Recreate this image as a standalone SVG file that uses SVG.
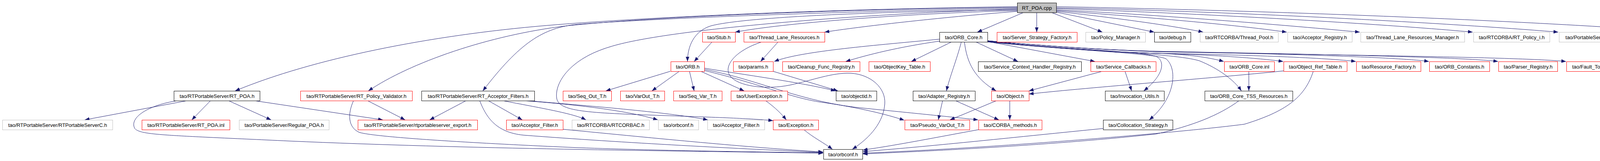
<svg xmlns="http://www.w3.org/2000/svg" width="4416" height="411" viewBox="0 0 4416 411">
<style>
.n rect{fill:#fff;stroke-width:1}
.k rect{stroke:#000}
.r rect{stroke:#f00}
.g rect{stroke:#bfbfbf}
.root rect{fill:#bfbfbf;stroke:#000}
text{font-family:"Liberation Sans",Arial,Helvetica,sans-serif;font-size:13px;text-anchor:middle;fill:#000}
#edges path{fill:none;stroke:#191970;stroke-width:1;marker-end:url(#a)}
</style>
<defs>
<marker id="a" markerUnits="userSpaceOnUse" markerWidth="12" markerHeight="10" viewBox="0 0 12 10" refX="12" refY="5" orient="auto"><path d="M0,0.5 L12,5 L0,9.5 z" fill="#191970"/></marker>
</defs>
<rect width="4416" height="411" fill="#fff"/>
<g id="edges">
<path d="M2620,32 L2502,82"/>
<path d="M2654,32 L2654,82"/>
<path d="M2692,32 L2822,82"/>
<path d="M2704,31 L2955,82"/>
<path d="M2704,29 C2850,45 3000,65 3080,82"/>
<path d="M2704,27 C2950,45 3150,62 3294,82"/>
<path d="M2704,25 C3000,40 3300,65 3481,82"/>
<path d="M2704,22 C3100,35 3550,62 3770,82"/>
<path d="M2704,20 C3200,30 3750,62 3989,82"/>
<path d="M2704,17 C3300,28 3950,55 4303,82"/>
<path d="M2604,17 C2200,22 1700,40 1400,65 C1100,90 800,150 602,232"/>
<path d="M2604,19 C2200,23 1700,40 1450,66 C1250,90 1050,160 943,232"/>
<path d="M2604,21 C2200,28 1700,45 1480,62 C1390,70 1330,110 1236,232"/>
<path d="M2604,23 C2200,35 1700,75 1560,120 C1460,150 1420,210 1425,250 C1430,285 1500,288 1700,295 C1850,300 1930,303 1979,308"/>
<path d="M2604,25 C2200,30 1900,45 1820,66 C1775,80 1760,120 1760,157"/>
<path d="M2604,27 C2300,35 2000,60 1882,82"/>
<path d="M2604,29 C2400,45 2200,68 2111,82"/>
<path d="M2405,100 C2250,115 2050,130 1982,157"/>
<path d="M2405,105 C2300,120 2220,140 2165,157"/>
<path d="M2436,107 L2333,157"/>
<path d="M2461,107 C2450,150 2430,200 2423,232"/>
<path d="M2469,107 C2475,160 2495,200 2550,232"/>
<path d="M2498,107 L2606,157"/>
<path d="M2528,106 L2803,157"/>
<path d="M2528,105 C2700,124 2850,133 2960,136 C3050,139 3100,148 3133,157"/>
<path d="M2528,105 C2700,124 2850,133 2960,136 C3100,140 3220,148 3285,157"/>
<path d="M2528,105 C2700,124 2850,133 2960,136 C3200,140 3400,148 3471,157"/>
<path d="M2528,104 C2700,120 2850,128 2960,131 C3300,138 3580,146 3658,157"/>
<path d="M2528,104 C2700,120 2850,128 2960,131 C3400,139 3750,146 3835,157"/>
<path d="M2528,104 C2700,120 2850,128 2960,132 C3500,142 3900,146 4009,157"/>
<path d="M2528,106 C2750,128 2920,130 2962,145 C2985,160 2975,195 2928,232"/>
<path d="M2528,107 C2760,130 2950,135 2985,150 C3015,175 3010,250 2942,306"/>
<path d="M2528,107 C2780,132 3000,135 3070,155 C3120,175 3160,205 3178,232"/>
<path d="M2551,257 L2432,306"/>
<path d="M2585,257 L2585,306"/>
<path d="M2413,257 L2402,306"/>
<path d="M2446,257 L2557,306"/>
<path d="M2822,182 L2634,232"/>
<path d="M2880,182 L2897,232"/>
<path d="M3286,181 C3100,200 2800,222 2634,240"/>
<path d="M3197,182 L3197,232"/>
<path d="M3172,257 C3120,295 3050,322 2960,342 C2700,370 2400,385 2209,393"/>
<path d="M3362,182 C3340,250 3290,285 3186,317 C3050,335 2600,375 2209,391"/>
<path d="M2824,328 C2600,350 2400,372 2209,387"/>
<path d="M2505,331 C2400,350 2300,370 2209,383"/>
<path d="M455,257 C380,268 330,300 345,328 C360,345 420,345 740,360 C1200,380 1700,385 2107,391"/>
<path d="M905,257 C890,290 890,325 920,338 C960,350 1200,365 1480,377 C1700,385 1950,388 2107,390"/>
<path d="M1228,257 C1245,300 1270,338 1340,345 C1600,365 1900,380 2107,389"/>
<path d="M1441,330 C1700,355 1900,375 2107,388"/>
<path d="M2058,331 C2080,350 2110,365 2131,381"/>
<path d="M1950,107 C1880,130 1850,170 1870,195 C1890,220 1960,230 2023,217 C2080,205 2130,185 2178,187 C2230,190 2268,225 2265,265 C2262,310 2230,350 2182,381"/>
<path d="M479,257 L217,306"/>
<path d="M539,257 L491,306"/>
<path d="M585,257 L694,306"/>
<path d="M651,257 L980,306"/>
<path d="M941,257 L1037,306"/>
<path d="M1193,257 L1100,306"/>
<path d="M1250,257 L1337,306"/>
<path d="M1287,257 C1380,275 1470,290 1500,306"/>
<path d="M1340,257 C1450,265 1600,280 1684,306"/>
<path d="M1352,257 C1500,270 1700,285 1812,306"/>
<path d="M1823,107 L1777,157"/>
<path d="M1992,107 L1947,157"/>
<path d="M1716,182 L1551,232"/>
<path d="M1739,182 L1669,232"/>
<path d="M1765,182 L1777,232"/>
<path d="M1794,182 L1905,232"/>
<path d="M1803,174 C1900,190 2050,210 2139,232"/>
<path d="M1803,177 C1950,205 2050,262 2220,277 C2350,290 2450,300 2504,306"/>
<path d="M1803,180 C1950,215 2030,252 2110,262 C2200,275 2270,292 2315,307"/>
<path d="M1979,182 L2145,232"/>
<path d="M1960,257 C1985,275 2000,290 2013,306"/>
</g>
<g id="n_rt_poa_cpp" class="n root"><rect x="2604.5" y="7.5" width="100" height="25"/><text x="2654.5" y="25">RT_POA.cpp</text></g>
<g id="n_stub" class="n r"><rect x="1798.5" y="82.5" width="84" height="25"/><text x="1840.5" y="100">tao/Stub.h</text></g>
<g id="n_tlr" class="n r"><rect x="1904.5" y="82.5" width="207" height="25"/><text x="2008" y="100">tao/Thread_Lane_Resources.h</text></g>
<g id="n_orb_core" class="n k"><rect x="2405.5" y="82.5" width="123" height="25"/><text x="2467" y="100">tao/ORB_Core.h</text></g>
<g id="n_ssf" class="n r"><rect x="2552.5" y="82.5" width="205" height="25"/><text x="2655" y="100">tao/Server_Strategy_Factory.h</text></g>
<g id="n_policy_manager" class="n g"><rect x="2779.5" y="82.5" width="153" height="25"/><text x="2856" y="100">tao/Policy_Manager.h</text></g>
<g id="n_debug" class="n k"><rect x="2955.5" y="82.5" width="93" height="25"/><text x="3002" y="100">tao/debug.h</text></g>
<g id="n_thread_pool" class="n g"><rect x="3072.5" y="82.5" width="200" height="25"/><text x="3172.5" y="100">tao/RTCORBA/Thread_Pool.h</text></g>
<g id="n_acceptor_registry" class="n g"><rect x="3296.5" y="82.5" width="165" height="25"/><text x="3379" y="100">tao/Acceptor_Registry.h</text></g>
<g id="n_tlr_manager" class="n g"><rect x="3483.5" y="82.5" width="266" height="25"/><text x="3616.5" y="100">tao/Thread_Lane_Resources_Manager.h</text></g>
<g id="n_rt_policy_i" class="n g"><rect x="3772.5" y="82.5" width="195" height="25"/><text x="3870" y="100">tao/RTCORBA/RT_Policy_i.h</text></g>
<g id="n_default_acceptor_filter" class="n g"><rect x="3991.5" y="82.5" width="290" height="25"/><text x="4136.5" y="100">tao/PortableServer/Default_Acceptor_Filter.h</text></g>
<g id="n_auto_ptr" class="n r"><rect x="4305.5" y="82.5" width="110" height="25"/><text x="4360.5" y="100">ace/Auto_Ptr.h</text></g>
<g id="n_orb" class="n r"><rect x="1717.5" y="157.5" width="86" height="25"/><text x="1760.5" y="175">tao/ORB.h</text></g>
<g id="n_params" class="n r"><rect x="1877.5" y="157.5" width="102" height="25"/><text x="1928.5" y="175">tao/params.h</text></g>
<g id="n_cleanup" class="n r"><rect x="2003.5" y="157.5" width="198" height="25"/><text x="2102.5" y="175">tao/Cleanup_Func_Registry.h</text></g>
<g id="n_objectkey_table" class="n r"><rect x="2224.5" y="157.5" width="157" height="25"/><text x="2303" y="175">tao/ObjectKey_Table.h</text></g>
<g id="n_schr" class="n k"><rect x="2504.5" y="157.5" width="264" height="25"/><text x="2636.5" y="175">tao/Service_Context_Handler_Registry.h</text></g>
<g id="n_service_callbacks" class="n r"><rect x="2792.5" y="157.5" width="167" height="25"/><text x="2876" y="175">tao/Service_Callbacks.h</text></g>
<g id="n_orb_core_inl" class="n r"><rect x="3134.5" y="157.5" width="128" height="25"/><text x="3198.5" y="175">tao/ORB_Core.inl</text></g>
<g id="n_object_ref_table" class="n r"><rect x="3286.5" y="157.5" width="162" height="25"/><text x="3367.5" y="175">tao/Object_Ref_Table.h</text></g>
<g id="n_resource_factory" class="n r"><rect x="3472.5" y="157.5" width="165" height="25"/><text x="3555" y="175">tao/Resource_Factory.h</text></g>
<g id="n_orb_constants" class="n r"><rect x="3659.5" y="157.5" width="154" height="25"/><text x="3736.5" y="175">tao/ORB_Constants.h</text></g>
<g id="n_parser_registry" class="n r"><rect x="3836.5" y="157.5" width="151" height="25"/><text x="3912" y="175">tao/Parser_Registry.h</text></g>
<g id="n_fault_tolerance" class="n r"><rect x="4010.5" y="157.5" width="204" height="25"/><text x="4112.5" y="175">tao/Fault_Tolerance_Service.h</text></g>
<g id="n_rt_poa_h" class="n k"><rect x="445.5" y="232.5" width="220" height="25"/><text x="555.5" y="250">tao/RTPortableServer/RT_POA.h</text></g>
<g id="n_rt_policy_validator" class="n r"><rect x="769.5" y="232.5" width="286" height="25"/><text x="912.5" y="250">tao/RTPortableServer/RT_Policy_Validator.h</text></g>
<g id="n_rt_acceptor_filters" class="n k"><rect x="1079.5" y="232.5" width="289" height="25"/><text x="1224" y="250">tao/RTPortableServer/RT_Acceptor_Filters.h</text></g>
<g id="n_seq_out" class="n r"><rect x="1441.5" y="232.5" width="124" height="25"/><text x="1503.5" y="250">tao/Seq_Out_T.h</text></g>
<g id="n_varout" class="n r"><rect x="1588.5" y="232.5" width="113" height="25"/><text x="1645" y="250">tao/VarOut_T.h</text></g>
<g id="n_seq_var" class="n r"><rect x="1724.5" y="232.5" width="124" height="25"/><text x="1786.5" y="250">tao/Seq_Var_T.h</text></g>
<g id="n_user_exception" class="n r"><rect x="1871.5" y="232.5" width="145" height="25"/><text x="1944" y="250">tao/UserException.h</text></g>
<g id="n_objectid" class="n k"><rect x="2140.5" y="232.5" width="104" height="25"/><text x="2192.5" y="250">tao/objectid.h</text></g>
<g id="n_adapter_registry" class="n k"><rect x="2337.5" y="232.5" width="159" height="25"/><text x="2417" y="250">tao/Adapter_Registry.h</text></g>
<g id="n_object" class="n r"><rect x="2538.5" y="232.5" width="96" height="25"/><text x="2586.5" y="250">tao/Object.h</text></g>
<g id="n_invocation_utils" class="n k"><rect x="2829.5" y="232.5" width="151" height="25"/><text x="2905" y="250">tao/Invocation_Utils.h</text></g>
<g id="n_orb_core_tss" class="n k"><rect x="3084.5" y="232.5" width="225" height="25"/><text x="3197" y="250">tao/ORB_Core_TSS_Resources.h</text></g>
<g id="n_rtpsc" class="n g"><rect x="6.5" y="306.5" width="282" height="25"/><text x="147.5" y="324">tao/RTPortableServer/RTPortableServerC.h</text></g>
<g id="n_rt_poa_inl" class="n r"><rect x="363.5" y="306.5" width="225" height="25"/><text x="476" y="324">tao/RTPortableServer/RT_POA.inl</text></g>
<g id="n_regular_poa" class="n g"><rect x="612.5" y="306.5" width="230" height="25"/><text x="727.5" y="324">tao/PortableServer/Regular_POA.h</text></g>
<g id="n_rtps_export" class="n r"><rect x="916.5" y="306.5" width="306" height="25"/><text x="1069.5" y="324">tao/RTPortableServer/rtportableserver_export.h</text></g>
<g id="n_acceptor_filter_r" class="n r"><rect x="1296.5" y="306.5" width="145" height="25"/><text x="1369" y="324">tao/Acceptor_Filter.h</text></g>
<g id="n_rtcorbac" class="n g"><rect x="1464.5" y="306.5" width="198" height="25"/><text x="1563.5" y="324">tao/RTCORBA/RTCORBAC.h</text></g>
<g id="n_orbconf_g" class="n g"><rect x="1685.5" y="306.5" width="103" height="25"/><text x="1737" y="324">tao/orbconf.h</text></g>
<g id="n_acceptor_filter_g" class="n g"><rect x="1811.5" y="306.5" width="146" height="25"/><text x="1884.5" y="324">tao/Acceptor_Filter.h</text></g>
<g id="n_exception" class="n r"><rect x="1979.5" y="306.5" width="116" height="25"/><text x="2037.5" y="324">tao/Exception.h</text></g>
<g id="n_pseudo_varout" class="n r"><rect x="2316.5" y="306.5" width="166" height="25"/><text x="2399.5" y="324">tao/Pseudo_VarOut_T.h</text></g>
<g id="n_corba_methods" class="n r"><rect x="2505.5" y="306.5" width="162" height="25"/><text x="2586.5" y="324">tao/CORBA_methods.h</text></g>
<g id="n_collocation" class="n k"><rect x="2824.5" y="306.5" width="178" height="25"/><text x="2913.5" y="324">tao/Collocation_Strategy.h</text></g>
<g id="n_orbconf_k" class="n k"><rect x="2108.5" y="381.5" width="100" height="25"/><text x="2158.5" y="399">tao/orbconf.h</text></g>
</svg>
